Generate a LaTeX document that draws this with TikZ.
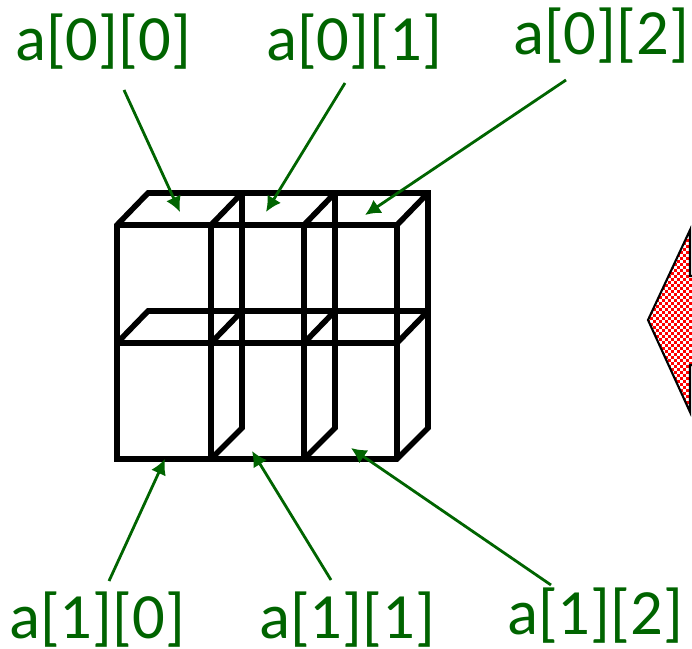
\documentclass[tikz,border=0pt]{standalone}
\usepackage{fontspec}
\setmainfont{Carlito}
\usetikzlibrary{arrows.meta}
\definecolor{lblgreen}{HTML}{006400}
\definecolor{chk}{HTML}{FF0000}
\tikzset{
  boxline/.style={draw=black,line width=4.2pt,line join=miter},
  lbl/.style={text=lblgreen,font=\fontsize{48.4}{58}\selectfont,inner sep=0pt,anchor=base},
  ptr/.style={draw=lblgreen,line width=2.1pt,-{Latex[length=11.5pt,width=12pt]}},
}
\begin{document}
\begin{tikzpicture}[x=0.75pt,y=-0.75pt]
\useasboundingbox (0,0) rectangle (692,649);
% front coordinates
\foreach \n/\x in {a/117,b/211,c/304,d/397}{
  \foreach \m/\y in {t/225,m/343,f/459}{
    \coordinate (\n\m) at (\x,\y);
  }
}
% back coordinates
\foreach \n/\x in {e/148,g/242,h/335,i/428}{
  \foreach \m/\y in {t/193,m/311,f/428}{
    \coordinate (\n\m) at (\x,\y);
  }
}
% inner partitions (drawn first so that the hull covers their ends)
\draw[boxline] (gt)--(gf)--(bf);
\draw[boxline] (ht)--(hf)--(cf);
\draw[boxline] (bt)--(gt);
\draw[boxline] (ct)--(ht);
\draw[boxline] (bt)--(bf);
\draw[boxline] (ct)--(cf);
% middle level
\draw[boxline] (am)--(em)--(im);
\draw[boxline] (am)--(dm);
\draw[boxline] (bm)--(gm);
\draw[boxline] (cm)--(hm);
\draw[boxline] (dm)--(im);
% outer hull, back and side
\draw[boxline] (af)--(at)--(et)--(it)--(if)--(df)--cycle;
\draw[boxline] (at)--(dt);
\draw[boxline] (dt)--(it);
\draw[boxline] (dt)--(df);
% labels
\node[lbl] (l00) at (103,61) {a[0][0]};
\node[lbl] (l01) at (354,61) {a[0][1]};
\node[lbl] (l02) at (601,55) {a[0][2]};
\node[lbl] (l10) at (97,638) {a[1][0]};
\node[lbl] (l11) at (347,638) {a[1][1]};
\node[lbl] (l12) at (595,634) {a[1][2]};
% pointer ends
\coordinate (s00) at (124,90); \coordinate (e00) at (180,212);
\coordinate (s01) at (345,83); \coordinate (e01) at (266,212);
\coordinate (s02) at (566,80); \coordinate (e02) at (365,215);
\coordinate (s10) at (109,581); \coordinate (e10) at (165,459);
\coordinate (s11) at (331,580); \coordinate (e11) at (252,451);
\coordinate (s12) at (551,585); \coordinate (e12) at (351,448);
\foreach \k in {00,01,02,10,11,12}{ \draw[ptr] (s\k)--(e\k); }
% block arrow, cut by the right edge
\begin{scope}
  \clip (690,230)--(648,320)--(690,412)--(690,365)--(692,365)--(692,276)--(690,276)--cycle;
  \fill[white] (640,225) rectangle (692,415);
  \foreach \i in {0,...,17}{
    \foreach \j in {0,...,64}{
      \pgfmathtruncatemacro{\p}{mod(\i+\j,2)}
      \ifnum\p=0
        \fill[chk] (641+\i*3,224+\j*3) rectangle ++(3,3);
      \fi
    }
  }
\end{scope}
\draw[black,line width=1.6pt,line join=miter] (692,276)--(690,276)--(690,230)--(648,320)--(690,412)--(690,365)--(692,365);
\end{tikzpicture}
\end{document}
